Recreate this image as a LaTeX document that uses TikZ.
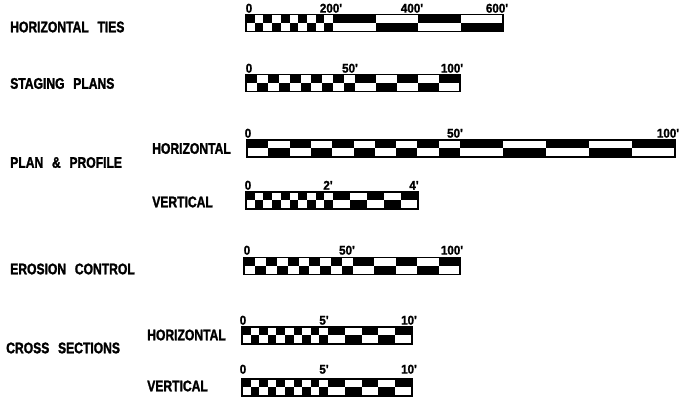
\documentclass[tikz,border=0pt]{standalone}
\usepackage{fontspec}
\newfontfamily\capfont{Liberation Sans}[FakeStretch=0.79,WordSpace=2.6,BoldFeatures={FakeBold=1.6}]
\newfontfamily\numfont{Liberation Sans}[FakeStretch=0.92,BoldFeatures={FakeBold=1.4}]

% scale bar: #1 left x, #2 top y, #3 small cell width, #4 big cell width, #5 number of big cells
\newcommand{\scalebar}[5]{%
  \foreach \k in {0,...,9}{
    \pgfmathsetmacro{\xa}{#1+\k*#3}
    \ifodd\k\relax \fill (\xa,#2+8.5) rectangle ++(#3,8.5); \else \fill (\xa,#2) rectangle ++(#3,8.5); \fi
  }
  \foreach \j in {1,...,#5}{
    \pgfmathsetmacro{\xb}{#1+10*#3+(\j-1)*#4}
    \ifodd\j\relax \fill (\xb,#2) rectangle ++(#4,8.5); \else \fill (\xb,#2+8.5) rectangle ++(#4,8.5); \fi
  }
  \pgfmathsetmacro{\len}{10*#3+#5*#4}
  \draw[barline] (#1,#2) rectangle ++(\len,17);
}

\begin{document}
\begin{tikzpicture}[x=0.75pt,y=0.75pt,yscale=-1,xscale=1,
  barline/.style={line width=1.1pt},
  title/.style={anchor=west,inner sep=0pt,font=\capfont\bfseries\fontsize{11.5}{13}\selectfont},
  num/.style={anchor=south,inner sep=0pt,font=\numfont\bfseries\fontsize{9.5}{11}\selectfont}]
\useasboundingbox (0,0) rectangle (686,402);

%Shape: Scale bars
\scalebar{246}{14.5}{8.7}{42.5}{4}
\scalebar{246}{74.5}{10.9}{21}{5}
\scalebar{247}{140}{21.3}{43}{5}
\scalebar{246}{192}{8.7}{17}{5}
\scalebar{244}{257.5}{10.9}{21.4}{5}
\scalebar{242}{327}{8.6}{16.8}{5}
\scalebar{242}{379}{8.6}{16.8}{5}

% Text Node
\node[title] (ties) at (10,27) {HORIZONTAL TIES};
\node[title] (staging) at (10,83.5) {STAGING PLANS};
\node[title] (plan) at (10,162.5) {PLAN \& PROFILE};
\node[title] (planh) at (152,148.5) {HORIZONTAL};
\node[title] (planv) at (152,202) {VERTICAL};
\node[title] (erosion) at (10,269) {EROSION CONTROL};
\node[title] (cross) at (6,348) {CROSS SECTIONS};
\node[title] (crossh) at (147,335) {HORIZONTAL};
\node[title] (crossv) at (147,386) {VERTICAL};

% Text Node
\node[num] (ties0) at (249,13) {0};
\node[num] (ties200) at (331,13) {200'};
\node[num] (ties400) at (412,13) {400'};
\node[num] (ties600) at (497,13) {600'};
% Text Node
\node[num] (staging0) at (249,73) {0};
\node[num] (staging50) at (350,73) {50'};
\node[num] (staging100) at (452,73) {100'};
% Text Node
\node[num] (planh0) at (248,138) {0};
\node[num] (planh50) at (455,138) {50'};
\node[num] (planh100) at (668,138) {100'};
% Text Node
\node[num] (planv0) at (248,190) {0};
\node[num] (planv2) at (328,190) {2'};
\node[num] (planv4) at (414,190) {4'};
% Text Node
\node[num] (erosion0) at (247,255) {0};
\node[num] (erosion50) at (347,255) {50'};
\node[num] (erosion100) at (452,255) {100'};
% Text Node
\node[num] (crossh0) at (243,325) {0};
\node[num] (crossh5) at (324,325) {5'};
\node[num] (crossh10) at (409,325) {10'};
% Text Node
\node[num] (crossv0) at (243,374) {0};
\node[num] (crossv5) at (324,374) {5'};
\node[num] (crossv10) at (409,374) {10'};

\end{tikzpicture}
\end{document}
